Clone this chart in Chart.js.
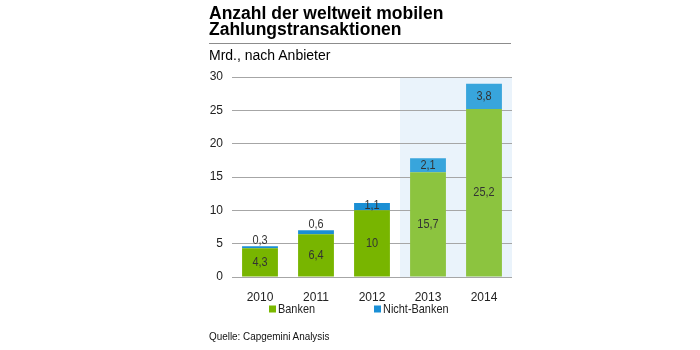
<!DOCTYPE html>
<html>
<head>
<meta charset="utf-8">
<script src="https://cdn.jsdelivr.net/npm/chart.js@4"></script>
<style>
  html, body { margin: 0; padding: 0; background: #fff; }
  #wrap { position: relative; width: 700px; height: 350px; font-family: "Liberation Sans", Arial, sans-serif; color: #000; }
  #chart { position: absolute; left: 0; top: 0; }
  .title { position: absolute; left: 209px; top: 6px; font-size: 17.5px; font-weight: bold; line-height: 15.5px; }
  .rule { position: absolute; left: 209px; top: 43px; width: 302px; height: 0; border-top: 1px solid #8c8c8c; }
  .sub { position: absolute; left: 209px; top: 47px; font-size: 14px; }
  .source { position: absolute; left: 209px; top: 330px; font-size: 11.5px; transform: scaleX(0.86); transform-origin: 0 0; color: #111; }
</style>
</head>
<body>
<div id="wrap">
  <canvas id="chart" width="700" height="350"></canvas>
  <div class="title">Anzahl der weltweit mobilen<br>Zahlungstransaktionen</div>
  <div class="rule"></div>
  <div class="sub">Mrd., nach Anbieter</div>
  <div class="source">Quelle: Capgemini Analysis</div>
</div>
<script>
const years = ['2010', '2011', '2012', '2013', '2014'];
const banken = [4.3, 6.4, 10, 15.7, 25.2];
const nichtBanken = [0.3, 0.6, 1.1, 2.1, 3.8];
const yTicks = [0, 5, 10, 15, 20, 25, 30];

const sans = '"Liberation Sans", Arial, sans-serif';
const fmt = v => String(v).replace('.', ',');
const squeeze = 0.84;

// text a little narrower than the font, like the original
function narrowText(ctx, text, x, y, align) {
  ctx.save();
  ctx.translate(x, y);
  ctx.scale(squeeze, 1);
  ctx.textAlign = align;
  ctx.fillText(text, 0, 0);
  ctx.restore();
}

// light background behind the forecast years (2013, 2014)
const shadePlugin = {
  id: 'shade',
  beforeDraw(chart) {
    const { ctx, chartArea, scales: { x } } = chart;
    const half = (x.getPixelForValue(1) - x.getPixelForValue(0)) / 2;
    const left = x.getPixelForValue(3) - half;
    ctx.save();
    ctx.fillStyle = '#eaf3fb';
    ctx.fillRect(left, chartArea.top, chartArea.right - left, chartArea.bottom - chartArea.top);
    ctx.restore();
  }
};

// value labels on the bars
const labelPlugin = {
  id: 'valueLabels',
  afterDatasetsDraw(chart) {
    const { ctx } = chart;
    ctx.save();
    ctx.font = '13px ' + sans;
    ctx.fillStyle = '#333';
    ctx.textBaseline = 'middle';
    chart.data.datasets.forEach((ds, di) => {
      chart.getDatasetMeta(di).data.forEach((bar, i) => {
        const v = ds.data[i];
        let y = (bar.y + bar.base) / 2;
        if (di === 1 && v < 1) y = bar.y - 6;
        if (di === 1 && v >= 1 && v < 2) y -= 1;
        narrowText(ctx, fmt(v), bar.x, y, 'center');
      });
    });
    ctx.restore();
  }
};

// legend row under the axis
const legendPlugin = {
  id: 'simpleLegend',
  afterDraw(chart) {
    const { ctx } = chart;
    const items = [
      { text: 'Banken', color: '#7ab800', x: 269 },
      { text: 'Nicht-Banken', color: '#1a8fd6', x: 374 }
    ];
    const y = 309;
    ctx.save();
    ctx.font = '13px ' + sans;
    ctx.textBaseline = 'middle';
    items.forEach(it => {
      ctx.fillStyle = it.color;
      ctx.fillRect(it.x, y - 3.5, 7, 7);
      ctx.fillStyle = '#222';
      narrowText(ctx, it.text, it.x + 9, y, 'left');
    });
    ctx.restore();
  }
};

new Chart(document.getElementById('chart'), {
  type: 'bar',
  data: {
    labels: years,
    datasets: [
      {
        label: 'Banken',
        data: banken,
        backgroundColor: ['#78b500', '#78b500', '#78b500', '#8cc43f', '#8cc43f']
      },
      {
        label: 'Nicht-Banken',
        data: nichtBanken,
        backgroundColor: ['#1b8fd4', '#1b8fd4', '#1b8fd4', '#38a5dc', '#38a5dc']
      }
    ]
  },
  options: {
    responsive: false,
    animation: false,
    layout: { padding: { left: 204, right: 188, top: 77, bottom: 49 } },
    datasets: { bar: { categoryPercentage: 1, barPercentage: 0.64 } },
    plugins: {
      legend: { display: false },
      tooltip: { enabled: false }
    },
    scales: {
      x: {
        stacked: true,
        grid: { display: false },
        border: { display: false },
        ticks: { color: '#222', padding: 5, font: { size: 12, family: sans } },
        afterFit(scale) { scale.height = 24; }
      },
      y: {
        stacked: true,
        min: 0,
        max: 30,
        afterBuildTicks(scale) { scale.ticks = yTicks.map(v => ({ value: v })); },
        grid: { color: '#a6a6a6', lineWidth: 1, drawTicks: false },
        border: { display: false },
        ticks: { color: '#222', padding: 9, font: { size: 12, family: sans } },
        afterFit(scale) { scale.width = 28; }
      }
    }
  },
  plugins: [shadePlugin, labelPlugin, legendPlugin]
});
</script>
</body>
</html>
